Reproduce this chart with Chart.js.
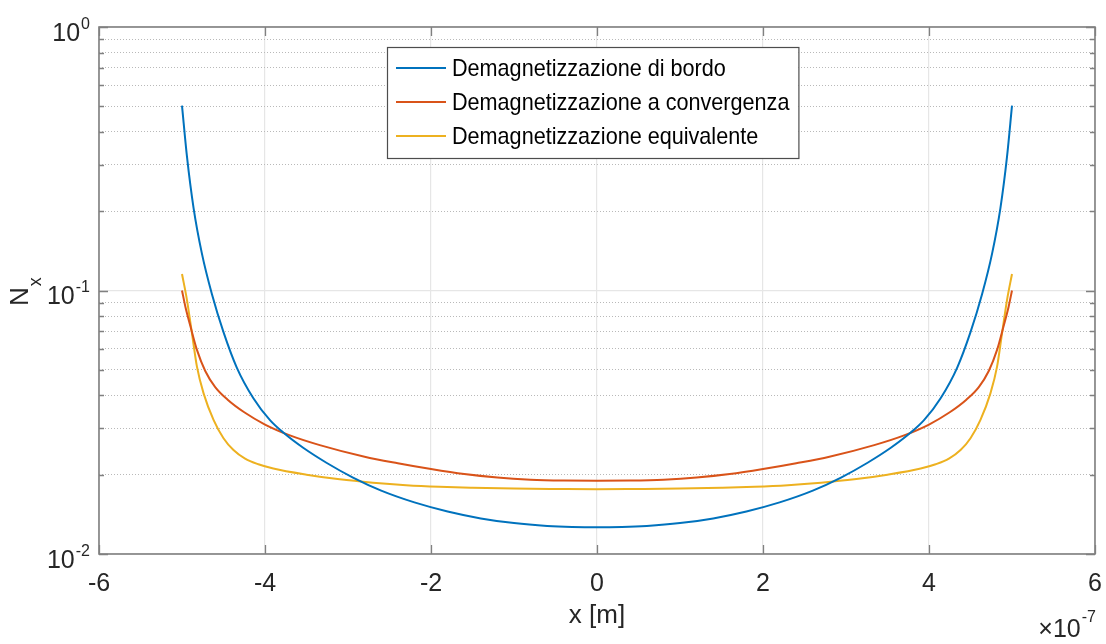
<!DOCTYPE html>
<html>
<head>
<meta charset="utf-8">
<title>Fattore di demagnetizzazione N_x</title>
<script src="https://cdn.jsdelivr.net/npm/chart.js@4.4.1/dist/chart.umd.min.js"></script>
<style>
  html, body { margin: 0; padding: 0; background: #fff; overflow: hidden; }
  #wrap { width: 1106px; height: 644px; }
</style>
</head>
<body>
<div id="wrap"><canvas id="nxChart" width="1106" height="644"></canvas></div>
<script>
// x positions are in units of 1e-7 m (the axis carries the x10^-7 multiplier)
const xBordo = [-5, -4.94, -4.86, -4.76, -4.64, -4.5, -4.34, -4.14, -3.94, -3.78, -3.54, -3.26, -2.94, -2.6, -2.2, -1.8, -1.4, -1.0, -0.6, -0.3, 0,
                0.3, 0.6, 1.0, 1.4, 1.8, 2.2, 2.6, 2.94, 3.26, 3.54, 3.78, 3.94, 4.14, 4.34, 4.5, 4.64, 4.76, 4.86, 4.94, 5];
const nBordo = [0.503, 0.322, 0.205, 0.138, 0.097, 0.0695, 0.0510, 0.0390, 0.0322, 0.0289, 0.0253, 0.0222, 0.0195, 0.0174, 0.0157, 0.0145, 0.01365, 0.0131, 0.01278, 0.01266, 0.01262,
                0.01266, 0.01278, 0.0131, 0.01365, 0.0145, 0.0157, 0.0174, 0.0195, 0.0222, 0.0253, 0.0289, 0.0322, 0.0390, 0.0510, 0.0695, 0.097, 0.138, 0.205, 0.322, 0.503];

const xConv = [-5, -4.96, -4.9, -4.82, -4.72, -4.6, -4.45, -4.25, -4.0, -3.7, -3.34, -2.8, -2.4, -2.0, -1.6, -1.2, -0.8, -0.4, 0,
               0.4, 0.8, 1.2, 1.6, 2.0, 2.4, 2.8, 3.34, 3.7, 4.0, 4.25, 4.45, 4.6, 4.72, 4.82, 4.9, 4.96, 5];
const nConv = [0.1, 0.087, 0.0735, 0.0595, 0.0495, 0.0430, 0.0385, 0.0345, 0.0310, 0.0282, 0.0259, 0.0234, 0.0221, 0.0210, 0.0201, 0.0195, 0.01915, 0.0190, 0.01895,
               0.0190, 0.01915, 0.0195, 0.0201, 0.0210, 0.0221, 0.0234, 0.0259, 0.0282, 0.0310, 0.0345, 0.0385, 0.0430, 0.0495, 0.0595, 0.0735, 0.087, 0.1];

const xEquiv = [-5, -4.94, -4.88, -4.82, -4.74, -4.62, -4.5, -4.38, -4.24, -4.08, -3.9, -3.5, -3.1, -2.7, -2.3, -1.9, -1.5, -1.0, -0.5, 0,
                0.5, 1.0, 1.5, 1.9, 2.3, 2.7, 3.1, 3.5, 3.9, 4.08, 4.24, 4.38, 4.5, 4.62, 4.74, 4.82, 4.88, 4.94, 5];
const nEquiv = [0.1155, 0.092, 0.0688, 0.0514, 0.0407, 0.0323, 0.0275, 0.0248, 0.0230, 0.0219, 0.0211, 0.0200, 0.0192, 0.01865, 0.01825, 0.0180, 0.01785, 0.01772, 0.01765, 0.0176,
                0.01765, 0.01772, 0.01785, 0.0180, 0.01825, 0.01865, 0.0192, 0.0200, 0.0211, 0.0219, 0.0230, 0.0248, 0.0275, 0.0323, 0.0407, 0.0514, 0.0688, 0.092, 0.1155];

const seriesLabels = ['Demagnetizzazione di bordo', 'Demagnetizzazione a convergenza', 'Demagnetizzazione equivalente'];
const seriesColors = ['#0072BD', '#D95319', '#EDB120'];

const xTicks = [-6, -4, -2, 0, 2, 4, 6];
const yMajorTicks = [0.01, 0.1, 1];
const yMinorTicks = [0.02, 0.03, 0.04, 0.05, 0.06, 0.07, 0.08, 0.09, 0.2, 0.3, 0.4, 0.5, 0.6, 0.7, 0.8, 0.9];
const yTickExponents = ['-2', '-1', '0'];

const FONT = "'Liberation Sans', Arial, Helvetica, sans-serif";
const TEXT_COLOR = '#262626';
const AXIS_COLOR = '#808080';

function toPoints(xs, ys) {
    return xs.map((x, i) => ({ x: x, y: ys[i] }));
}

// --- MATLAB-like frame: box, inward ticks, 10^n labels, axis titles, legend ---
const matlabFrame = {
    id: 'matlabFrame',
    afterDraw(chart) {
        const { ctx, chartArea: a, scales } = chart;
        const sx = scales.x, sy = scales.y;
        ctx.save();

        // inward tick marks on all four sides
        ctx.strokeStyle = AXIS_COLOR;
        ctx.lineWidth = 1.3;
        ctx.beginPath();
        xTicks.forEach(v => {
            const px = Math.round(sx.getPixelForValue(v)) + 0.5;
            ctx.moveTo(px, a.bottom); ctx.lineTo(px, a.bottom - 9);
            ctx.moveTo(px, a.top); ctx.lineTo(px, a.top + 9);
        });
        yMajorTicks.forEach(v => {
            const py = Math.round(sy.getPixelForValue(v)) + 0.5;
            ctx.moveTo(a.left, py); ctx.lineTo(a.left + 9, py);
            ctx.moveTo(a.right, py); ctx.lineTo(a.right - 9, py);
        });
        yMinorTicks.forEach(v => {
            const py = Math.round(sy.getPixelForValue(v)) + 0.5;
            ctx.moveTo(a.left, py); ctx.lineTo(a.left + 5, py);
            ctx.moveTo(a.right, py); ctx.lineTo(a.right - 5, py);
        });
        ctx.stroke();

        ctx.lineWidth = 1.6;
        ctx.strokeRect(a.left, a.top, a.right - a.left, a.bottom - a.top);

        // y tick labels as 10^n
        ctx.fillStyle = TEXT_COLOR;
        ctx.textBaseline = 'alphabetic';
        yMajorTicks.forEach((v, i) => {
            const py = sy.getPixelForValue(v);
            const base = py + 4.5 + 9;
            ctx.font = '16px ' + FONT;
            ctx.textAlign = 'right';
            const exp = yTickExponents[i];
            const ew = ctx.measureText(exp).width;
            ctx.fillText(exp, 90, base - 12);
            ctx.font = '25px ' + FONT;
            ctx.fillText('10', 90 - ew - 1, base);
        });

        // x axis title and multiplier
        ctx.textAlign = 'center';
        ctx.font = '26px ' + FONT;
        ctx.fillText('x [m]', (a.left + a.right) / 2, 623);

        ctx.textAlign = 'right';
        ctx.font = '16px ' + FONT;
        const mw = ctx.measureText('-7').width;
        ctx.fillText('-7', 1096, 622);
        ctx.font = '25px ' + FONT;
        ctx.fillText('\u00d710', 1096 - mw - 1, 637);

        // y axis title N_x, rotated
        ctx.save();
        ctx.translate(28, 306);
        ctx.rotate(-Math.PI / 2);
        ctx.textAlign = 'left';
        ctx.font = '26px ' + FONT;
        ctx.fillText('N', 0, 0);
        const nw = ctx.measureText('N').width;
        ctx.font = '18px ' + FONT;
        ctx.fillText('x', nw + 1, 13);
        ctx.restore();

        // legend box (text slightly condensed, as in the exported figure)
        const squeeze = 0.9;
        ctx.font = '24px ' + FONT;
        let maxW = 0;
        seriesLabels.forEach(t => { maxW = Math.max(maxW, ctx.measureText(t).width * squeeze); });
        const boxX = 387, boxY = 47, rowH = 34;
        const textX = boxX + 65;
        const boxW = textX - boxX + maxW + 9;
        const boxH = rowH * seriesLabels.length + 9;
        ctx.fillStyle = '#ffffff';
        ctx.fillRect(boxX, boxY, boxW, boxH);
        ctx.strokeStyle = '#4d4d4d';
        ctx.lineWidth = 1.2;
        ctx.strokeRect(boxX + 0.5, boxY + 0.5, boxW, boxH);
        ctx.textAlign = 'left';
        ctx.textBaseline = 'middle';
        seriesLabels.forEach((t, i) => {
            const cy = boxY + 21 + i * rowH;
            ctx.strokeStyle = seriesColors[i];
            ctx.lineWidth = 2;
            ctx.beginPath();
            ctx.moveTo(boxX + 9, cy); ctx.lineTo(boxX + 59, cy);
            ctx.stroke();
            ctx.save();
            ctx.translate(textX, cy + 1);
            ctx.scale(squeeze, 1);
            ctx.fillStyle = '#000000';
            ctx.fillText(t, 0, 0);
            ctx.restore();
        });

        ctx.restore();
    }
};

document.addEventListener('DOMContentLoaded', function() {
    const canvas = document.getElementById('nxChart');

    new Chart(canvas, {
        type: 'line',
        data: {
            datasets: [
                { label: seriesLabels[0], data: toPoints(xBordo, nBordo), borderColor: seriesColors[0] },
                { label: seriesLabels[1], data: toPoints(xConv, nConv), borderColor: seriesColors[1] },
                { label: seriesLabels[2], data: toPoints(xEquiv, nEquiv), borderColor: seriesColors[2] }
            ]
        },
        options: {
            responsive: false,
            animation: false,
            devicePixelRatio: 1,
            layout: { padding: { left: 99, right: 11, top: 27, bottom: 0 } },
            elements: {
                line: { borderWidth: 2, cubicInterpolationMode: 'monotone', fill: false },
                point: { radius: 0, hoverRadius: 0 }
            },
            plugins: {
                legend: { display: false },
                tooltip: { enabled: false }
            },
            scales: {
                x: {
                    type: 'linear',
                    min: -6,
                    max: 6,
                    afterBuildTicks: scale => { scale.ticks = xTicks.map(v => ({ value: v })); },
                    afterFit: scale => {
                        scale.height = 90;
                        // end labels may overhang; the layout padding already leaves room
                        scale.paddingLeft = 0;
                        scale.paddingRight = 0;
                    },
                    grid: { color: '#e6e6e6', lineWidth: 1.2, drawTicks: false },
                    border: { display: false },
                    ticks: {
                        padding: 15,
                        color: TEXT_COLOR,
                        font: { family: FONT, size: 25 },
                        callback: v => String(v)
                    }
                },
                y: {
                    type: 'logarithmic',
                    min: 0.01,
                    max: 1,
                    afterBuildTicks: scale => { scale.ticks = yMajorTicks.map(v => ({ value: v })); },
                    afterFit: scale => { scale.width = 0; },
                    grid: { color: '#e6e6e6', lineWidth: 1.2, drawTicks: false },
                    border: { display: false },
                    ticks: { display: false }
                },
                yMinor: {
                    type: 'logarithmic',
                    position: 'left',
                    min: 0.01,
                    max: 1,
                    afterBuildTicks: scale => { scale.ticks = yMinorTicks.map(v => ({ value: v })); },
                    afterFit: scale => { scale.width = 0; },
                    grid: { color: '#b9b9b9', lineWidth: 1, drawTicks: false },
                    border: { display: false, dash: [1, 2] },
                    ticks: { display: false }
                }
            }
        },
        plugins: [matlabFrame]
    });
});
</script>
</body>
</html>
